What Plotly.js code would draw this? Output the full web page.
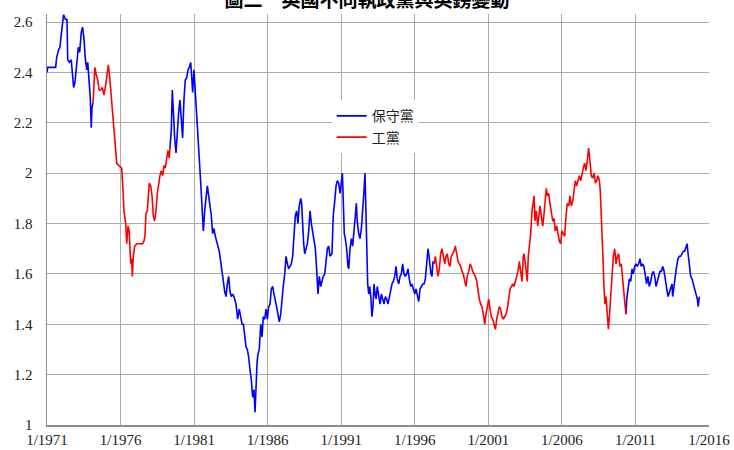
<!DOCTYPE html>
<html>
<head>
<meta charset="utf-8">
<script src="https://cdn.plot.ly/plotly-3.0.1.min.js"></script>
<style>html,body{margin:0;padding:0;background:#fff;}#chart{width:734px;height:450px;}</style>
</head>
<body>
<div id="chart"></div>
<script>
// Decimal years and GBP/USD rates
const years = [
1971.00,1971.05,1971.59,1971.66,1971.79,1971.88,1971.97,1972.07,1972.13,1972.25,1972.36,1972.41,1972.52,1972.65,1972.75,1972.81,1972.90,1972.99,
1973.06,1973.13,1973.22,1973.33,1973.42,1973.52,1973.60,1973.70,1973.77,1973.86,1973.94,1974.01,1974.06,1974.13,1974.20,1974.26,1974.35,1974.45,
1974.54,1974.65,1974.76,1974.87,1974.99,1975.10,1975.17,1975.28,1975.40,1975.49,1975.60,1975.67,1975.74,1975.89,1976.08,1976.17,1976.23,1976.35,
1976.42,1976.51,1976.59,1976.69,1976.76,1976.80,1976.87,1976.96,1977.10,1977.32,1977.50,1977.59,1977.66,1977.73,1977.82,1977.95,1978.05,1978.14,
1978.23,1978.32,1978.41,1978.50,1978.59,1978.68,1978.77,1978.87,1978.95,1979.04,1979.14,1979.23,1979.31,1979.36,1979.45,1979.52,1979.59,1979.68,
1979.77,1979.86,1979.95,1980.04,1980.13,1980.22,1980.31,1980.40,1980.50,1980.59,1980.67,1980.77,1980.84,1980.90,1980.99,1981.08,1981.18,1981.27,
1981.35,1981.45,1981.54,1981.63,1981.72,1981.81,1981.90,1981.99,1982.08,1982.17,1982.26,1982.35,1982.44,1982.54,1982.62,1982.71,1982.81,1982.90,
1982.99,1983.08,1983.17,1983.26,1983.35,1983.44,1983.53,1983.62,1983.71,1983.85,1983.96,1984.07,1984.17,1984.26,1984.35,1984.44,1984.53,1984.62,
1984.71,1984.80,1984.89,1984.98,1985.07,1985.14,1985.21,1985.28,1985.34,1985.43,1985.53,1985.62,1985.70,1985.80,1985.89,1985.98,1986.07,1986.16,
1986.25,1986.34,1986.43,1986.52,1986.61,1986.70,1986.79,1986.89,1986.98,1987.06,1987.16,1987.25,1987.34,1987.43,1987.52,1987.61,1987.70,1987.79,
1987.88,1987.97,1988.06,1988.15,1988.25,1988.31,1988.38,1988.45,1988.52,1988.61,1988.70,1988.79,1988.88,1988.97,1989.06,1989.15,1989.24,1989.33,
1989.42,1989.51,1989.61,1989.69,1989.78,1989.88,1989.97,1990.06,1990.15,1990.24,1990.37,1990.46,1990.56,1990.65,1990.74,1990.83,1990.92,1991.01,
1991.08,1991.14,1991.21,1991.28,1991.37,1991.46,1991.51,1991.60,1991.69,1991.78,1991.87,1991.96,1992.03,1992.09,1992.19,1992.28,1992.37,1992.46,
1992.55,1992.62,1992.69,1992.73,1992.80,1992.87,1992.94,1993.01,1993.09,1993.16,1993.23,1993.30,1993.37,1993.45,1993.55,1993.64,1993.73,1993.82,
1993.91,1994.00,1994.09,1994.18,1994.27,1994.36,1994.45,1994.54,1994.64,1994.73,1994.81,1994.91,1995.00,1995.09,1995.18,1995.27,1995.36,1995.45,
1995.54,1995.63,1995.73,1995.81,1995.90,1996.00,1996.09,1996.17,1996.27,1996.36,1996.45,1996.54,1996.63,1996.72,1996.81,1996.90,1996.97,1997.04,
1997.10,1997.17,1997.24,1997.31,1997.40,1997.49,1997.58,1997.67,1997.76,1997.85,1997.94,1998.04,1998.12,1998.21,1998.31,1998.40,1998.48,1998.58,
1998.67,1998.76,1998.85,1998.94,1999.03,1999.12,1999.21,1999.30,1999.40,1999.48,1999.57,1999.67,1999.76,1999.84,1999.94,2000.03,2000.12,2000.22,
2000.30,2000.39,2000.48,2000.57,2000.66,2000.76,2000.84,2000.93,2001.03,2001.12,2001.20,2001.30,2001.39,2001.48,2001.57,2001.66,2001.75,2001.84,
2001.93,2002.02,2002.12,2002.20,2002.29,2002.39,2002.48,2002.57,2002.66,2002.75,2002.84,2002.93,2003.02,2003.11,2003.20,2003.29,2003.38,2003.43,
2003.52,2003.61,2003.65,2003.72,2003.79,2003.88,2003.97,2004.06,2004.11,2004.17,2004.26,2004.36,2004.45,2004.51,2004.60,2004.70,2004.79,2004.87,
2004.94,2005.01,2005.10,2005.19,2005.28,2005.38,2005.47,2005.55,2005.65,2005.74,2005.83,2005.92,2006.01,2006.10,2006.19,2006.28,2006.37,2006.47,
2006.55,2006.64,2006.74,2006.83,2006.92,2007.01,2007.10,2007.19,2007.28,2007.37,2007.46,2007.55,2007.64,2007.73,2007.82,2007.91,2008.00,2008.09,
2008.19,2008.28,2008.37,2008.46,2008.55,2008.61,2008.68,2008.75,2008.81,2008.86,2008.93,2009.00,2009.09,2009.16,2009.23,2009.32,2009.41,2009.50,
2009.59,2009.68,2009.77,2009.86,2009.95,2010.04,2010.13,2010.23,2010.29,2010.36,2010.41,2010.50,2010.59,2010.68,2010.77,2010.86,2010.95,2011.04,
2011.13,2011.22,2011.31,2011.39,2011.49,2011.58,2011.67,2011.76,2011.85,2011.94,2012.04,2012.13,2012.22,2012.31,2012.40,2012.49,2012.59,2012.67,
2012.76,2012.86,2012.95,2013.03,2013.13,2013.22,2013.31,2013.40,2013.49,2013.53,2013.62,2013.71,2013.80,2013.89,2013.98,2014.08,2014.17,2014.26,
2014.35,2014.44,2014.51,2014.58,2014.66,2014.76,2014.85,2014.94,2015.03,2015.12,2015.21,2015.27,2015.34
];
const rates = [
2.40,2.42,2.42,2.46,2.49,2.50,2.55,2.61,2.63,2.61,2.61,2.45,2.44,2.45,2.36,2.34,2.36,2.42,
2.47,2.50,2.48,2.56,2.58,2.53,2.46,2.41,2.44,2.36,2.30,2.18,2.26,2.28,2.35,2.42,2.39,2.37,
2.33,2.33,2.34,2.31,2.35,2.41,2.43,2.37,2.28,2.20,2.11,2.08,2.04,2.03,2.02,1.93,1.85,1.80,
1.72,1.79,1.77,1.64,1.66,1.59,1.67,1.71,1.72,1.72,1.72,1.73,1.75,1.84,1.85,1.96,1.95,1.91,
1.83,1.81,1.85,1.92,1.96,1.99,2.01,1.99,2.03,2.02,2.06,2.09,2.06,2.10,2.17,2.33,2.22,2.14,
2.08,2.17,2.24,2.29,2.22,2.14,2.29,2.37,2.38,2.41,2.42,2.44,2.38,2.32,2.41,2.33,2.25,2.17,
2.06,1.96,1.88,1.77,1.85,1.89,1.95,1.91,1.87,1.83,1.76,1.78,1.75,1.72,1.71,1.69,1.64,1.61,
1.57,1.53,1.51,1.56,1.59,1.53,1.51,1.52,1.51,1.48,1.42,1.46,1.43,1.40,1.40,1.35,1.31,1.30,
1.27,1.22,1.18,1.11,1.14,1.05,1.19,1.25,1.28,1.30,1.40,1.35,1.43,1.42,1.46,1.42,1.47,1.48,
1.54,1.55,1.52,1.50,1.47,1.44,1.41,1.44,1.51,1.55,1.60,1.67,1.64,1.62,1.63,1.64,1.67,1.75,
1.83,1.85,1.80,1.87,1.90,1.88,1.79,1.72,1.68,1.70,1.72,1.77,1.85,1.80,1.77,1.74,1.70,1.62,
1.52,1.59,1.55,1.57,1.59,1.60,1.66,1.70,1.71,1.67,1.68,1.83,1.89,1.95,1.97,1.96,1.92,1.97,
2.00,1.89,1.76,1.74,1.70,1.63,1.62,1.70,1.74,1.71,1.76,1.83,1.88,1.81,1.76,1.74,1.78,1.88,
1.93,2.00,1.85,1.71,1.56,1.52,1.55,1.51,1.43,1.47,1.56,1.52,1.50,1.55,1.51,1.48,1.52,1.50,
1.48,1.51,1.50,1.48,1.51,1.54,1.56,1.57,1.59,1.63,1.58,1.56,1.59,1.60,1.64,1.60,1.59,1.60,
1.62,1.58,1.55,1.56,1.54,1.52,1.54,1.51,1.49,1.54,1.55,1.56,1.56,1.58,1.64,1.70,1.67,1.63,
1.60,1.59,1.65,1.64,1.67,1.63,1.59,1.62,1.68,1.70,1.67,1.64,1.67,1.68,1.64,1.63,1.67,1.68,
1.69,1.71,1.67,1.65,1.64,1.63,1.61,1.60,1.57,1.55,1.59,1.61,1.64,1.63,1.61,1.60,1.59,1.57,
1.53,1.50,1.48,1.47,1.44,1.40,1.44,1.47,1.50,1.46,1.43,1.42,1.40,1.38,1.42,1.44,1.47,1.46,
1.43,1.42,1.43,1.44,1.46,1.50,1.54,1.55,1.56,1.55,1.57,1.59,1.61,1.65,1.60,1.57,1.67,1.68,
1.64,1.59,1.57,1.67,1.71,1.76,1.85,1.88,1.91,1.81,1.85,1.79,1.84,1.87,1.83,1.79,1.84,1.91,
1.94,1.91,1.92,1.88,1.84,1.81,1.82,1.77,1.79,1.76,1.73,1.72,1.77,1.76,1.75,1.83,1.88,1.87,
1.91,1.87,1.89,1.93,1.97,1.95,1.97,1.99,1.97,2.00,2.02,2.04,2.01,2.05,2.10,2.05,1.99,1.98,
2.00,1.96,1.97,1.99,1.97,1.93,1.85,1.75,1.64,1.55,1.48,1.51,1.43,1.38,1.43,1.52,1.62,1.67,
1.70,1.64,1.67,1.68,1.63,1.64,1.58,1.50,1.48,1.44,1.50,1.54,1.58,1.57,1.62,1.60,1.63,1.64,
1.63,1.64,1.66,1.63,1.64,1.63,1.60,1.56,1.59,1.55,1.57,1.60,1.61,1.59,1.55,1.57,1.60,1.61,
1.61,1.63,1.61,1.57,1.54,1.51,1.53,1.54,1.56,1.51,1.55,1.61,1.63,1.66,1.67,1.67,1.68,1.69,
1.69,1.71,1.72,1.68,1.63,1.59,1.58,1.56,1.54,1.52,1.50,1.47,1.51
];
// Governing-party periods (start year of each period as seen in the picture)
const periodStarts = [1971.00, 1974.10, 1979.32, 1997.27, 2010.31];
const periodParty  = ['con', 'lab', 'con', 'lab', 'con'];
const seriesNames  = {con: '保守黨', lab: '工黨'};
const seriesColors = {con: '#0000ff', lab: '#ff0000'};
const titleText = '圖二　英國不同執政黨與英鎊變動';

function toDate(y) {
  const yr = Math.floor(y);
  const s = Date.UTC(yr, 0, 1), e = Date.UTC(yr + 1, 0, 1);
  return new Date(s + (y - yr) * (e - s)).toISOString().slice(0, 10);
}
function partyOf(y) {
  let p = periodParty[0];
  for (let i = 0; i < periodStarts.length; i++) if (y >= periodStarts[i]) p = periodParty[i];
  return p;
}
const dates = years.map(toDate);
const parties = years.map(partyOf);

function build(p) {
  const ys = rates.map((v, i) => (parties[i] === p || (i > 0 && parties[i - 1] === p)) ? v : null);
  return {
    x: dates, y: ys, type: 'scatter', mode: 'lines', name: seriesNames[p],
    line: {color: seriesColors[p], width: 1.6}, connectgaps: false, hoverinfo: 'x+y'
  };
}
const traces = [build('con'), build('lab')];

const serif = "'Liberation Serif', 'Times New Roman', 'DejaVu Serif', serif";
const layout = {
  width: 734, height: 450,
  margin: {l: 47, r: 25, t: 14, b: 25},
  paper_bgcolor: '#fff', plot_bgcolor: '#fff',
  title: {
    text: '<b>' + titleText + '</b>', xref: 'container', x: 0.5, xanchor: 'center',
    yref: 'container', y: 1, yanchor: 'middle',
    font: {family: "'Noto Sans CJK TC'", size: 19, color: '#000'}
  },
  xaxis: {
    type: 'date', range: ['1971-01-01', '2016-01-01 12:00'],
    tick0: '1971-01-01', dtick: 'M60', tickformat: '%-m/%Y',
    showgrid: true, gridcolor: '#ababab', gridwidth: 1,
    showline: true, linecolor: '#8c8c8c', linewidth: 1.5,
    ticks: '', zeroline: false,
    tickfont: {family: serif, size: 15, color: '#222'}
  },
  yaxis: {
    range: [1, 2.632], tick0: 1, dtick: 0.2,
    showgrid: true, gridcolor: '#ababab', gridwidth: 1,
    showline: true, linecolor: '#8c8c8c', linewidth: 1.5,
    ticks: '', zeroline: false, ticklabelstandoff: 10,
    tickfont: {family: serif, size: 15, color: '#222'}
  },
  legend: {
    x: 0.43, y: 0.79, xanchor: 'left', yanchor: 'top',
    bgcolor: '#fff', borderwidth: 0,
    font: {family: "'Noto Sans CJK TC'", size: 14, color: '#222'},
    tracegroupgap: 0
  },
  showlegend: true
};
Plotly.newPlot('chart', traces, layout, {displayModeBar: false, staticPlot: true});
</script>
</body>
</html>
